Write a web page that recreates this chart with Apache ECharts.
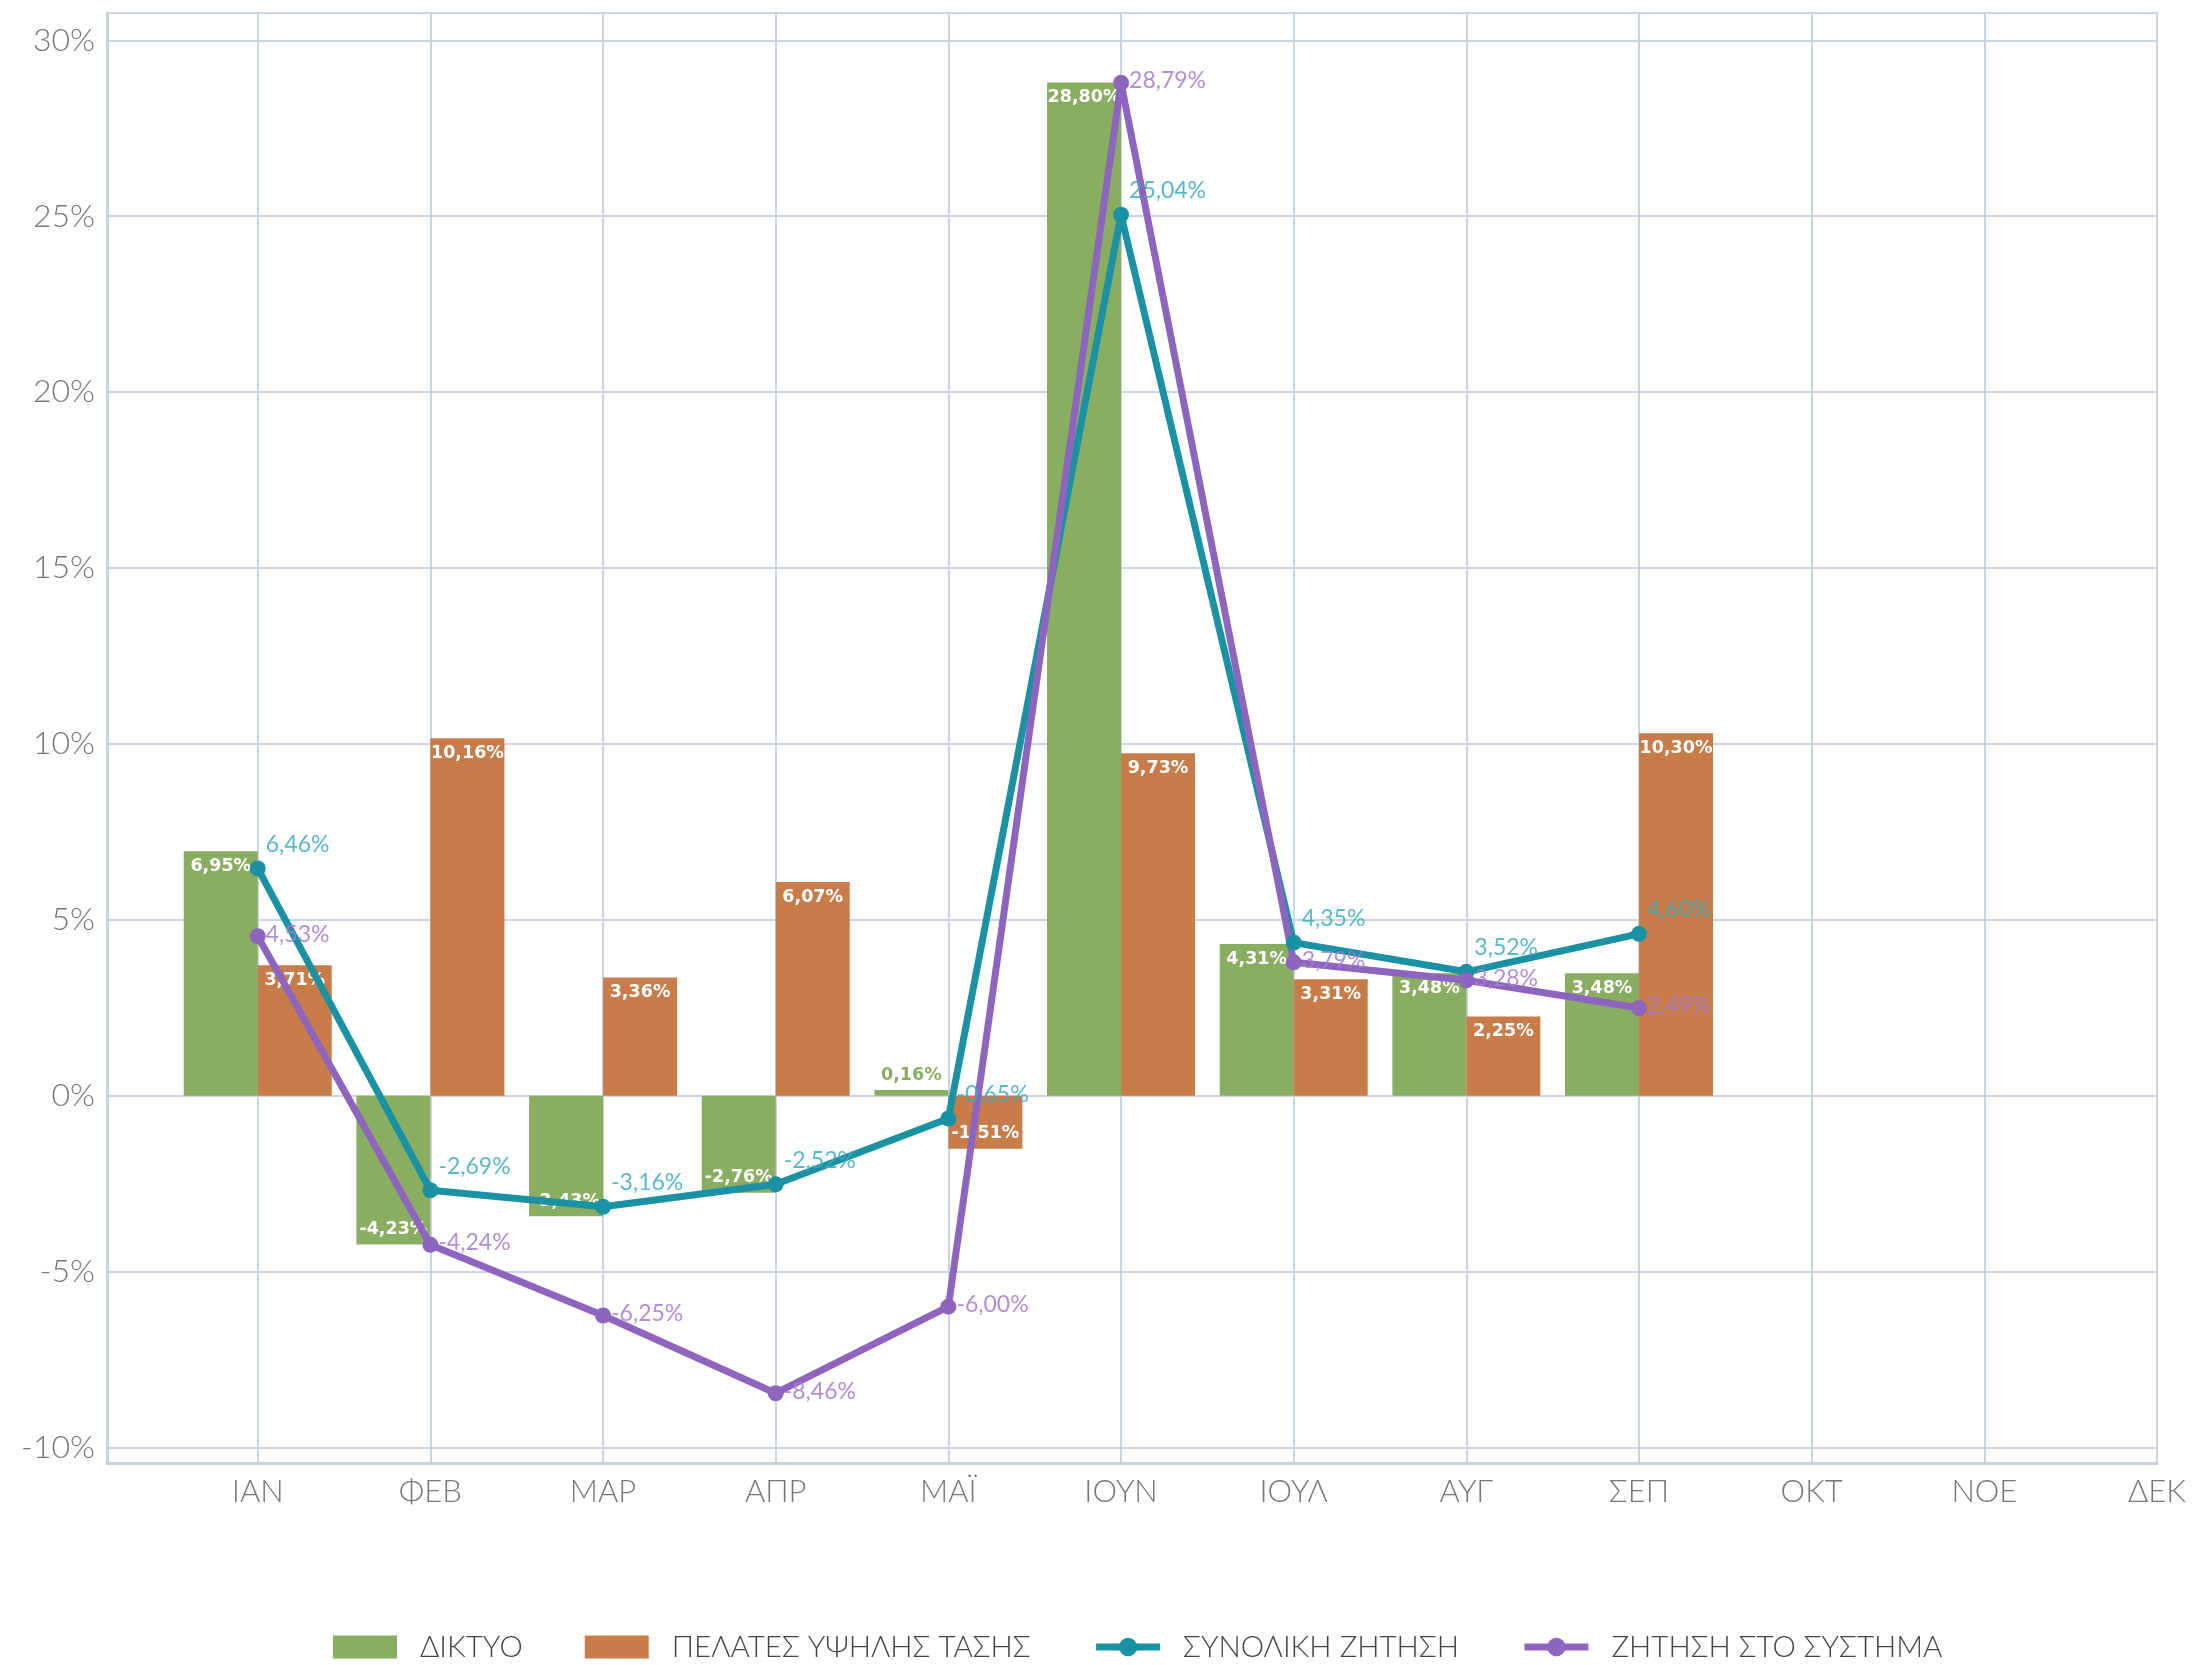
<!DOCTYPE html>
<html>
<head>
<meta charset="utf-8">
<script src="https://cdn.jsdelivr.net/npm/echarts@6/dist/echarts.min.js"></script>
<style>
  html, body { margin: 0; padding: 0; background: #fff; }
  #main { width: 2192px; height: 1665px; }
</style>
</head>
<body>
<div id="main"></div>
<script>
// months of the year (x axis)
var months = ['ΙΑΝ', 'ΦΕΒ', 'ΜΑΡ', 'ΑΠΡ', 'ΜΑΪ', 'ΙΟΥΝ', 'ΙΟΥΛ', 'ΑΥΓ', 'ΣΕΠ', 'ΟΚΤ', 'ΝΟΕ', 'ΔΕΚ'];
var monthIdx = [0, 1, 2, 3, 4, 5, 6, 7, 8, 9, 10, 11];
var yTicks = [-10, -5, 0, 5, 10, 15, 20, 25, 30];

// % change per month
var diktyo   = [6.95, -4.23, -3.43, -2.76, 0.16, 28.80, 4.31, 3.48, 3.48];
var ypsili   = [3.71, 10.16, 3.36, 6.07, -1.51, 9.73, 3.31, 2.25, 10.30];
var synoliki = [6.46, -2.69, -3.16, -2.52, -0.65, 25.04, 4.35, 3.52, 4.60];
var systima  = [4.53, -4.24, -6.25, -8.46, -6.00, 28.79, 3.79, 3.28, 2.49];

var GREEN = '#89ae62', ORANGE = '#c87c4a', TEAL = '#1a92a3', PURPLE = '#8e65be';
var FONT = 'Lato, "Noto Sans", sans-serif';

function fmt(v) { return v.toFixed(2).replace('.', ',') + '%'; }

// bar labels sit inside the bar end: top for positive, bottom for negative
function barData(arr, color) {
  return arr.map(function (v, i) {
    var lbl = { position: v >= 0 ? 'insideTop' : 'insideBottom' };
    if (Math.abs(v) < 1) {
      // too small for an inside label
      lbl = { position: v >= 0 ? 'top' : 'bottom', color: color };
    }
    return { value: [i, v], label: lbl };
  });
}
function lineData(arr) {
  return arr.map(function (v, i) { return [i, v]; });
}

var barLabel = {
  show: true,
  fontFamily: '"DejaVu Sans", sans-serif',
  fontWeight: 'bold',
  fontSize: 17.5,
  color: '#fff',
  distance: 6,
  formatter: function (p) { return fmt(p.value[1]); }
};

function lineLabel(color, dy) {
  return {
    show: true,
    position: 'right',
    distance: 0,
    offset: [0, dy],
    fontFamily: FONT,
    fontWeight: 'normal',
    fontSize: 23,
    color: color,
    formatter: function (p) { return fmt(p.value[1]); }
  };
}

var chart = echarts.init(document.getElementById('main'));

var option = {
  animation: false,
  backgroundColor: '#fff',
  grid: {
    left: 107, right: 35, top: 13, bottom: 202,
    show: true, borderColor: '#c9d6e1', borderWidth: 2
  },
  legend: {
    left: 333, top: 1632, padding: 0,
    itemWidth: 64, itemHeight: 23, itemGap: 62,
    lineStyle: { width: 7 },
    textStyle: { fontFamily: FONT, fontWeight: 300, fontSize: 29.5, color: '#444', padding: [0, 0, 0, 18] },
    data: [
      { name: 'ΔΙΚΤΥΟ', icon: 'rect' },
      { name: 'ΠΕΛΑΤΕΣ ΥΨΗΛΗΣ ΤΑΣΗΣ', icon: 'rect' },
      { name: 'ΣΥΝΟΛΙΚΗ ΖΗΤΗΣΗ' },
      { name: 'ΖΗΤΗΣΗ ΣΤΟ ΣΥΣΤΗΜΑ' }
    ]
  },
  xAxis: {
    type: 'value',
    min: -0.873, max: 11,
    axisLine: { show: true, onZero: false, lineStyle: { color: '#c5d3de', width: 3 } },
    axisTick: { show: false, customValues: monthIdx },
    axisLabel: {
      customValues: monthIdx,
      margin: 13,
      fontFamily: FONT, fontWeight: 300, fontSize: 31, color: '#777',
      formatter: function (v) { return months[Math.round(v)]; }
    },
    splitLine: { show: true, lineStyle: { color: '#c9d6e1', width: 2 } }
  },
  yAxis: {
    type: 'value',
    min: -10.443, max: 30.776,
    axisLine: { show: true, onZero: false, lineStyle: { color: '#c5d3de', width: 3 } },
    axisTick: { show: false, customValues: yTicks },
    axisLabel: {
      customValues: yTicks,
      margin: 12,
      fontFamily: FONT, fontWeight: 300, fontSize: 32, color: '#777',
      formatter: function (v) { return Math.round(v) + '%'; }
    },
    splitLine: { show: true, lineStyle: { color: '#c9d6e1', width: 2 } }
  },
  series: [
    {
      name: 'ΔΙΚΤΥΟ', type: 'bar', barWidth: 74, barGap: '0%',
      itemStyle: { color: GREEN },
      label: barLabel,
      data: barData(diktyo, GREEN)
    },
    {
      name: 'ΠΕΛΑΤΕΣ ΥΨΗΛΗΣ ΤΑΣΗΣ', type: 'bar', barWidth: 74, barGap: '0%',
      itemStyle: { color: ORANGE },
      label: barLabel,
      data: barData(ypsili, ORANGE)
    },
    {
      name: 'ΣΥΝΟΛΙΚΗ ΖΗΤΗΣΗ', type: 'line',
      symbol: 'circle', symbolSize: 16,
      lineStyle: { color: TEAL, width: 7 },
      itemStyle: { color: TEAL },
      label: lineLabel('rgba(60,172,187,0.85)', -24),
      data: lineData(synoliki)
    },
    {
      name: 'ΖΗΤΗΣΗ ΣΤΟ ΣΥΣΤΗΜΑ', type: 'line',
      symbol: 'circle', symbolSize: 16,
      lineStyle: { color: PURPLE, width: 7 },
      itemStyle: { color: PURPLE },
      label: lineLabel('rgba(162,122,210,0.85)', -2),
      data: lineData(systima)
    }
  ]
};

chart.setOption(option);
</script>
</body>
</html>
